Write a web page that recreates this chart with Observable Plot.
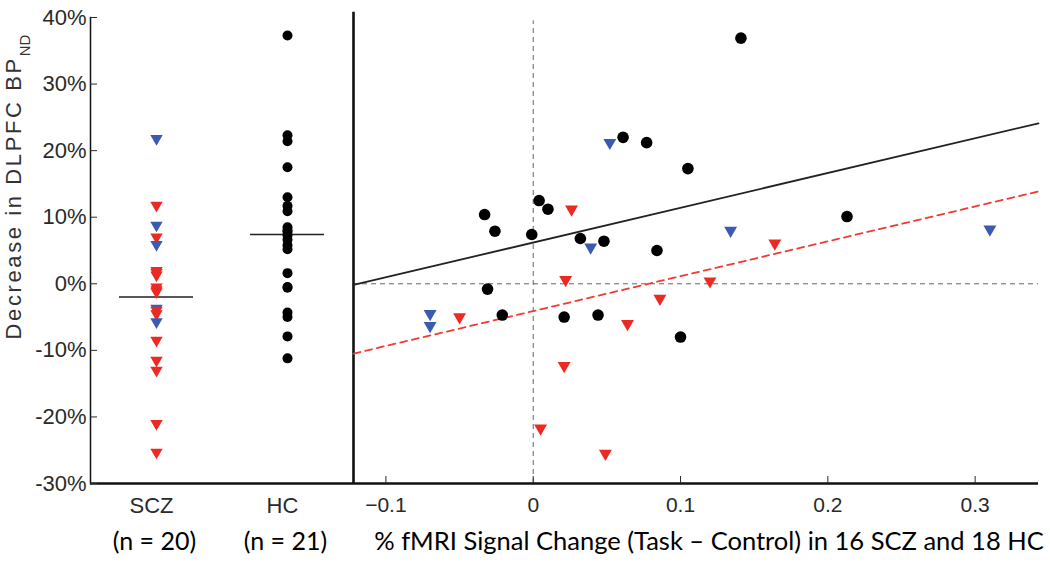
<!DOCTYPE html>
<html><head><meta charset="utf-8">
<script src="https://cdn.jsdelivr.net/npm/d3@7"></script>
<script src="https://cdn.jsdelivr.net/npm/@observablehq/plot@0.6"></script>
<style>
html,body{margin:0;padding:0;background:#fff;}
#wrap{display:flex;width:1050px;height:564px;overflow:hidden;}
#wrap svg{overflow:visible;}
</style></head><body><div id="wrap"></div>
<script>
// ---------- data ----------
const groups = ["SCZ", "HC"];
const groupN = [20, 21];
const subgroups = ["SCZ-1", "SCZ-2", "HC"];
const yTicks = [-30, -20, -10, 0, 10, 20, 30, 40];
const xTicks = [-0.1, 0, 0.1, 0.2, 0.3];
const xRange = [-0.122, 0.343];
const yLabel = "Decrease in DLPFC BP";
const yLabelSub = "ND";
const xTitle = "% fMRI Signal Change (Task \u2013 Control) in 16 SCZ and 18 HC";

// left panel: % decrease in BPND per subject
const sczBP  = [21.8, 11.8, 8.8, 7.0, 5.9, 2.0, 1.7, 1.3, -0.5, -0.9, -1.2, -3.7, -4.0, -4.5, -5.7, -8.5, -11.5, -13.0, -21.0, -25.3];
const sczSub = ["SCZ-2","SCZ-1","SCZ-2","SCZ-1","SCZ-2","SCZ-1","SCZ-1","SCZ-1","SCZ-1","SCZ-1","SCZ-1","SCZ-2","SCZ-1","SCZ-1","SCZ-2","SCZ-1","SCZ-1","SCZ-1","SCZ-1","SCZ-1"];
const hcBP   = [37.3, 22.3, 21.4, 17.5, 13.0, 11.7, 10.9, 8.5, 8.0, 7.8, 7.3, 6.6, 5.8, 5.2, 1.6, -0.5, -0.6, -4.3, -5.0, -7.9, -11.2];

// right panel: fMRI signal change vs decrease in BPND
const hcFmri   = [0.141, 0.061, 0.077, 0.105, -0.033, -0.026, 0.004, 0.010, -0.001, 0.032, 0.048, 0.084, -0.031, -0.021, 0.021, 0.044, 0.100, 0.213];
const hcFmriBP = [36.9, 22.0, 21.2, 17.3, 10.4, 7.9, 12.5, 11.2, 7.4, 6.8, 6.4, 5.0, -0.8, -4.7, -5.0, -4.7, -8.0, 10.1];
const sczFmri   = [0.026, 0.022, -0.050, 0.064, 0.086, 0.021, 0.005, 0.049, 0.120, 0.164, 0.052, 0.039, -0.070, -0.070, 0.134, 0.310];
const sczFmriBP = [11.2, 0.6, -5.0, -6.0, -2.2, -12.3, -21.7, -25.5, 0.4, 6.1, 21.2, 5.5, -4.5, -6.3, 8.0, 8.2];
const sczFmriSub = ["SCZ-1","SCZ-1","SCZ-1","SCZ-1","SCZ-1","SCZ-1","SCZ-1","SCZ-1","SCZ-1","SCZ-1","SCZ-2","SCZ-2","SCZ-2","SCZ-2","SCZ-2","SCZ-2"];

// regression fits (percent per unit fMRI change)
const fitGroups = ["HC", "SCZ"];
const fitSlope = [52.2, 52.4];
const fitIntercept = [6.2, -4.1];

// ---------- tables ----------
const leftData = [
  ...sczBP.map((v, i) => ({group: "SCZ", sub: sczSub[i], bp: v})),
  ...hcBP.map(v => ({group: "HC", sub: "HC", bp: v}))
];
const hcPts = hcFmri.map((x, i) => ({x, y: hcFmriBP[i], sub: "HC"}));
const sczPts = sczFmri.map((x, i) => ({x, y: sczFmriBP[i], sub: sczFmriSub[i]}));
const fitData = fitGroups.flatMap((g, i) => xRange.map(x => ({group: g, x, y: fitIntercept[i] + fitSlope[i] * x})));

const colorOpt = {domain: subgroups, range: ["#ec2a22", "#3b5bb2", "#000000"]};
const sans = "'Liberation Sans', Arial, Helvetica, sans-serif";
const human = "Lato, 'Open Sans', sans-serif";

const left = Plot.plot({
  width: 353, height: 564,
  marginLeft: 90, marginRight: 0, marginTop: 17, marginBottom: 81,
  style: {fontFamily: sans, background: "transparent"},
  x: {type: "band", domain: groups, paddingInner: 0.435, paddingOuter: 0.2175},
  y: {domain: [-30, 40]},
  color: colorOpt,
  marks: [
    Plot.frame({anchor: "left", stroke: "#111", strokeWidth: 1.5}),
    Plot.ruleY([-30], {stroke: "#111", strokeWidth: 2.6}),
    Plot.axisY({ticks: yTicks, tickFormat: d => d + "%", tickSize: -7, tickPadding: 11, fontSize: 22, color: "#2a2a2a", label: null}),
    Plot.axisX({tickSize: 0, tickPadding: 14, fontSize: 22, color: "#2a2a2a", label: null, dx: -5}),
    Plot.text(groups, {x: d => d, text: (d, i) => `(n = ${groupN[i]})`, frameAnchor: "bottom", dy: 66, dx: -2, fontSize: 25, fontFamily: human, fill: "#000"}),
    Plot.tickY(leftData, Plot.groupX({y: "mean"}, {x: "group", y: "bp", stroke: "#222", strokeWidth: 1.6})),
    Plot.dot(leftData.filter(d => d.group === "SCZ"), {x: "group", y: "bp", fill: "sub", symbol: "triangle", rotate: 180, r: 4.6}),
    Plot.dot(leftData.filter(d => d.group === "HC"), {x: "group", y: "bp", fill: "sub", r: 5})
  ]
});

const right = Plot.plot({
  width: 697, height: 564,
  marginLeft: 0, marginRight: 12, marginTop: 17, marginBottom: 81,
  style: {fontFamily: sans, background: "transparent"},
  x: {domain: xRange},
  y: {domain: [-30, 40], axis: null},
  color: colorOpt,
  marks: [
    Plot.ruleY([0], {stroke: "#666", strokeDasharray: "5,4", strokeWidth: 1}),
    Plot.ruleX([0], {y1: -30, y2: 39.5, stroke: "#666", strokeDasharray: "5,4", strokeWidth: 1}),
    Plot.ruleX([xRange[0]], {y1: -30, y2: 40.8, stroke: "#111", strokeWidth: 2.6}),
    Plot.ruleY([-30], {stroke: "#111", strokeWidth: 2.6}),
    Plot.axisX({ticks: xTicks, tickFormat: d => String(d).replace("-", "\u2212"), tickSize: -7, tickPadding: 21, fontSize: 21, color: "#2a2a2a", label: null}),
    Plot.text([xTitle], {frameAnchor: "bottom", dy: 66, dx: 13, fontSize: 25.5, fontFamily: human, fill: "#000"}),
    Plot.line(fitData.filter(d => d.group === "HC"), {x: "x", y: "y", stroke: "#222", strokeWidth: 1.8}),
    Plot.line(fitData.filter(d => d.group === "SCZ"), {x: "x", y: "y", stroke: "#f03a33", strokeWidth: 1.8, strokeDasharray: "7,5"}),
    Plot.dot(sczPts, {x: "x", y: "y", fill: "sub", symbol: "triangle", rotate: 180, r: 4.8}),
    Plot.dot(hcPts, {x: "x", y: "y", fill: "sub", r: 5.8})
  ]
});

const wrap = document.getElementById("wrap");
wrap.appendChild(left);
wrap.appendChild(right);

// y-axis title with subscript
const lab = d3.select(left).append("text")
  .attr("transform", "translate(21,187) rotate(-90)")
  .attr("text-anchor", "middle")
  .attr("font-family", sans)
  .attr("font-size", 22)
  .attr("letter-spacing", 2.6)
  .attr("fill", "#333");
lab.append("tspan").text(yLabel);
lab.append("tspan").attr("baseline-shift", "sub").attr("font-size", 15).attr("letter-spacing", 0).text(yLabelSub);
</script>
</body></html>
